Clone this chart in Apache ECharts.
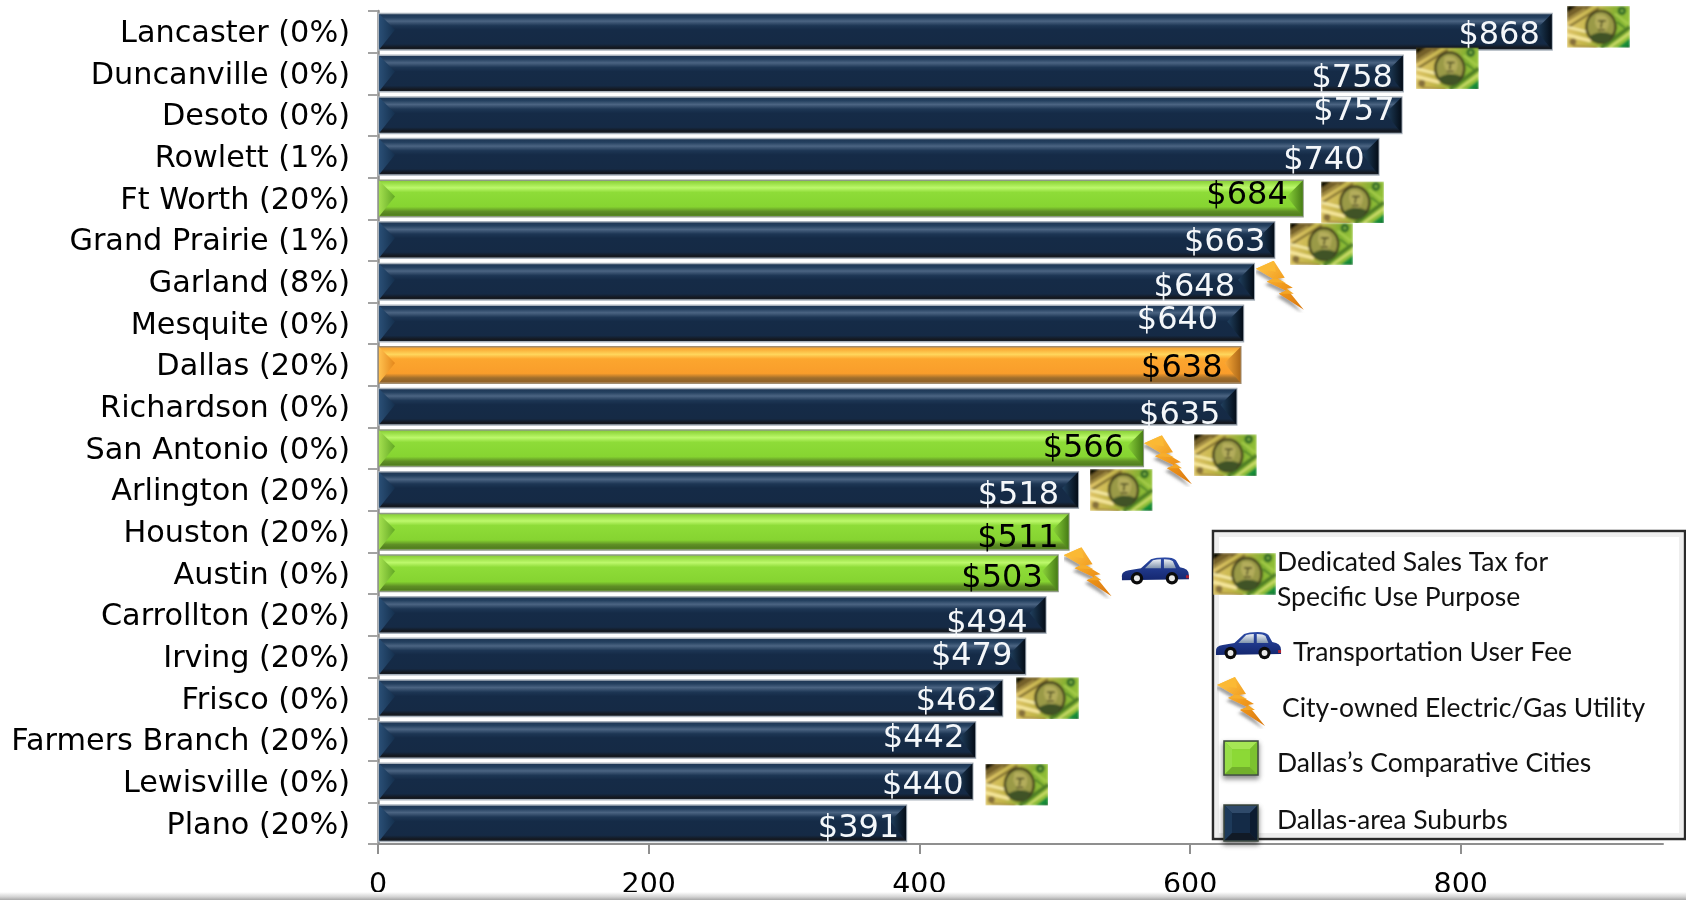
<!DOCTYPE html>
<html>
<head>
<meta charset="utf-8">
<title>Monthly cost by city</title>
<style>html,body{margin:0;padding:0;background:#fff}#chart{width:1686px;height:900px}</style>
<script src="https://cdn.jsdelivr.net/npm/echarts@6/dist/echarts.min.js"></script>
</head>
<body>
<div id="chart"></div>
<script>
// Cities, top to bottom
const cities = ['Lancaster (0%)','Duncanville (0%)','Desoto (0%)','Rowlett (1%)','Ft Worth (20%)','Grand Prairie (1%)','Garland (8%)','Mesquite (0%)','Dallas (20%)','Richardson (0%)','San Antonio (0%)','Arlington (20%)','Houston (20%)','Austin (0%)','Carrollton (20%)','Irving (20%)','Frisco (0%)','Farmers Branch (20%)','Lewisville (0%)','Plano (20%)'];
const amounts = [868,758,757,740,684,663,648,640,638,635,566,518,511,503,494,479,462,442,440,391];
const groups = ['suburb','suburb','suburb','suburb','peer','suburb','suburb','suburb','dallas','suburb','peer','suburb','peer','peer','suburb','suburb','suburb','suburb','suburb','suburb'];
const axisTicks = [0,200,400,600,800];

// Value label nudges in pixels: [inset from the bar end, vertical shift]
const labelNudge = [[13,4],[11,5],[8,-3],[15,4],[16,-3],[10,3],[20,6],[26,-3],[19,4],[17,9],[20,0],[20,6],[11,7],[16,5],[19,9],[14,0],[6,3],[12,-1],[10,4],[8,6]];

// Icon annotations: [axis value, city, vertical shift in pixels]
const salesTaxMarks = [[901.7,'Lancaster (0%)',-5],[790,'Duncanville (0%)',-5],[720,'Ft Worth (20%)',4],[697,'Grand Prairie (1%)',4],[626,'San Antonio (0%)',7],[549,'Arlington (20%)',0],[494.6,'Frisco (0%)',0],[472,'Lewisville (0%)',3]];
const utilityMarks = [[667,'Garland (8%)',5],[584.4,'San Antonio (0%)',13],[525,'Austin (0%)',0]];
const userFeeMarks = [[574.4,'Austin (0%)',-2]];

// Bevel palettes per bar group
const palette = {
  suburb: {
    stops: [[0,'#1b3250'],[0.12,'#24405f'],[0.22,'#4b6482'],[0.34,'#1d3654'],[0.45,'#152b47'],[0.82,'#152a45'],[0.92,'#14181f'],[1,'#1b2530']],
    border: '#a9b2bc', left: ['#2a4f76','#15304e'], right: ['#20405f','#040d18'], text: '#f4f7fa'
  },
  peer: {
    stops: [[0,'#7fc52e'],[0.12,'#9fe34c'],[0.22,'#bdf86c'],[0.34,'#8edc38'],[0.72,'#86d431'],[0.84,'#5f8f25'],[0.93,'#527f1f'],[1,'#6da529']],
    border: '#8f9a86', left: ['#a4e04f','#62a824'], right: ['#8dd63a','#477d16'], text: '#000'
  },
  dallas: {
    stops: [[0,'#f4982a'],[0.12,'#fbb63f'],[0.22,'#ffd65c'],[0.34,'#fca62e'],[0.72,'#f99d2b'],[0.84,'#a06e2c'],[0.93,'#8f6228'],[1,'#c6853a']],
    border: '#a08c70', left: ['#ffc04e','#e4861a'], right: ['#fbaa38','#ad6818'], text: '#000'
  }
};

const vGrad = (stops) => new echarts.graphic.LinearGradient(0,0,0,1,stops.map(s => ({offset:s[0],color:s[1]})));
const hGrad = (pair) => new echarts.graphic.LinearGradient(0,0,1,0,[{offset:0,color:pair[0]},{offset:1,color:pair[1]}]);

// Icon artwork as inline SVG
const billSvg = `<svg xmlns="http://www.w3.org/2000/svg" width="63" height="42" viewBox="0 0 63 42">
<defs>
<linearGradient id="b" x1="0" y1="0.3" x2="1" y2="0.5"><stop offset="0" stop-color="#e3c66c"/><stop offset="0.4" stop-color="#c2b548"/><stop offset="0.75" stop-color="#80b030"/><stop offset="1" stop-color="#9ac63c"/></linearGradient>
<linearGradient id="g" x1="0" y1="0" x2="1" y2="1"><stop offset="0" stop-color="#2fae45"/><stop offset="1" stop-color="#0b7d32"/></linearGradient>
<filter id="s" x="-5%" y="-5%" width="110%" height="110%"><feGaussianBlur stdDeviation="0.8"/></filter>
<clipPath id="c"><rect width="63" height="42"/></clipPath>
</defs>
<g clip-path="url(#c)"><g filter="url(#s)">
<rect width="63" height="42" fill="url(#b)"/>
<polygon points="0,16 0,0 26,0" fill="#75602a"/>
<polygon points="0,7 0,0 10,0" fill="#0d0a06"/>
<line x1="0" y1="22" x2="32" y2="2" stroke="#7d6c2e" stroke-width="2.2"/>
<line x1="0" y1="14" x2="18" y2="3" stroke="#b8a24e" stroke-width="1.4"/>
<line x1="0" y1="29" x2="24" y2="35" stroke="#f6e79c" stroke-width="3.4"/>
<line x1="0" y1="21" x2="20" y2="26" stroke="#f7eca8" stroke-width="2.4"/>
<line x1="6" y1="40" x2="30" y2="42" stroke="#a88f40" stroke-width="2"/>
<line x1="34" y1="42" x2="63" y2="21" stroke="#4f7f26" stroke-width="4"/>
<line x1="42" y1="42" x2="63" y2="27" stroke="#d2de70" stroke-width="2"/>
<polygon points="63,42 50,42 63,32" fill="url(#g)"/>
<polygon points="63,42 54,42 63,41" fill="#02250c"/>
<ellipse cx="34" cy="21" rx="14.5" ry="16" fill="#9a9a46" stroke="#3f3c1c" stroke-width="2.4"/>
<path d="M29 9 Q39 7 42 15 Q42 24 36 27 Q30 25 28 17 Z" fill="#b4ad5c"/>
<path d="M31 15 L39 15 M35 15 L34 22 M31 24 L38 24" stroke="#4a4820" stroke-width="1.5" fill="none"/>
<path d="M22 31 Q33 23 46 29 L41 37 L28 37 Z" fill="#3f5226"/>
<circle cx="55" cy="5" r="4.2" fill="#2b6628"/>
<circle cx="55" cy="5" r="1.6" fill="#86b844"/>
<circle cx="6" cy="36" r="3.4" fill="#86703a"/>
<line x1="48" y1="8" x2="61" y2="18" stroke="#a9cf4e" stroke-width="2"/>
<line x1="50" y1="16" x2="58" y2="22" stroke="#3f7a26" stroke-width="1.6"/>
</g></g></svg>`;

const carSvg = `<svg xmlns="http://www.w3.org/2000/svg" width="69" height="28" viewBox="0 0 69 28">
<defs>
<linearGradient id="k" x1="0" y1="0" x2="0" y2="1"><stop offset="0" stop-color="#2c4aa6"/><stop offset="1" stop-color="#14276f"/></linearGradient>
<linearGradient id="w" x1="0" y1="0" x2="0" y2="1"><stop offset="0" stop-color="#eef2f6"/><stop offset="1" stop-color="#7f93ad"/></linearGradient>
</defs>
<path d="M1 20 Q0 14 8 13 L20 11 L30 2 Q35 0 44 0 Q52 0 55 3 L59 10 Q68 11 68 18 L68 22 L1 23 Z" fill="url(#k)"/>
<path d="M24 11 L32 3 Q36 2 40 2 L40 11 Z" fill="url(#w)"/>
<path d="M43 2 Q50 2 52 4 L55 11 L43 11 Z" fill="url(#w)"/>
<rect x="65" y="18" width="3" height="3" fill="#b02030"/>
<circle cx="16" cy="21" r="6.2" fill="#0b0b0b"/><circle cx="16" cy="21" r="3" fill="#e8e8e8"/>
<circle cx="51" cy="21" r="6.2" fill="#0b0b0b"/><circle cx="51" cy="21" r="3" fill="#e8e8e8"/>
</svg>`;

const boltSvg = `<svg xmlns="http://www.w3.org/2000/svg" width="50" height="52" viewBox="0 0 50 52">
<defs>
<linearGradient id="o" x1="0" y1="0" x2="1" y2="1"><stop offset="0" stop-color="#ffc94a"/><stop offset="0.55" stop-color="#f0981c"/><stop offset="1" stop-color="#d8760c"/></linearGradient>
<filter id="d" x="-20%" y="-20%" width="140%" height="140%"><feDropShadow dx="-2" dy="3" stdDeviation="1.8" flood-color="#555" flood-opacity="0.55"/></filter>
</defs>
<polygon filter="url(#d)" fill="url(#o)" points="18,0 29,17 22,18 37,27 31,28 48,49 23,33 30,30 11,21 17,18 0,8"/>
<polygon fill="#fbb934" points="18,0 0,8 20,11"/>
<polygon fill="#f7ae2c" points="11,21 30,22 22,18 17,18"/>
<polygon fill="#f4a626" points="23,33 38,33 31,28 30,30"/>
</svg>`;

const svgUri = (svg) => 'data:image/svg+xml;charset=utf-8,' + encodeURIComponent(svg);
const billImg = svgUri(billSvg), carImg = svgUri(carSvg), boltImg = svgUri(boltSvg);

const markSeries = (name, marks, img, size) => ({
  type: 'scatter', name, z: 5, clip: false, silent: true,
  symbol: 'image://' + img, symbolSize: size,
  itemStyle: { opacity: 1 },
  data: marks.map(m => ({ value: [m[0], m[1]], symbolOffset: [0, m[2]] }))
});

// Square legend swatch with pyramid-style shading
function swatch(x, y, w, h, kind) {
  const d = 8, peer = kind === 'peer';
  const tri = (pts, fill) => ({ type:'polygon', z:31, shape:{points:pts}, style:{fill} });
  return { type:'group', x, y, children:[
    { type:'rect', z:30, shape:{x:0,y:0,width:w,height:h}, style:{ fill: peer?'#8cd936':'#142b47', stroke:'#3e4a40', lineWidth:1.5, shadowBlur:5, shadowOffsetY:3, shadowColor:'rgba(0,0,0,0.45)' } },
    tri([[1,1],[w-1,1],[w-d,d],[d,d]], peer?'#a6e655':'#2f4a6a'),
    tri([[1,1],[d,d],[d,h-d],[1,h-1]], peer?'#97de48':'#1d3a5a'),
    tri([[w-1,1],[w-d,d],[w-d,h-d],[w-1,h-1]], peer?'#7cc230':'#0c1c30'),
    tri([[1,h-1],[d,h-d],[w-d,h-d],[w-1,h-1]], peer?'#72b02c':'#111a26')
  ]};
}
const legendText = (x, y, text) => ({
  type:'text', x, y, z:32,
  style:{ text, fill:'#111', font:'26.5px Lato, "Open Sans", sans-serif', textVerticalAlign:'middle' }
});

const chart = echarts.init(document.getElementById('chart'), null, { renderer:'canvas' });

chart.setOption({
  animation: false,
  backgroundColor: '#fff',
  grid: { left: 378, top: 11, width: 1285, height: 834.7, containLabel: false },
  xAxis: {
    type: 'value', min: 0, max: 949.4, splitLine: { show:false },
    axisLine: { show:true, onZero:false, lineStyle:{ color:'#8f8f8f', width:2 } },
    axisTick: { show:true, length:10, customValues: axisTicks, lineStyle:{ color:'#8f8f8f', width:2 } },
    axisLabel: { customValues: axisTicks, margin: 27, color:'#000', fontSize:28.5, fontFamily:'"DejaVu Sans"' }
  },
  yAxis: {
    type: 'category', inverse: true, data: cities,
    axisLine: { show:true, lineStyle:{ color:'#8f8f8f', width:2.5 } },
    axisTick: { show:true, length:10, lineStyle:{ color:'#a3a3a3', width:2 } },
    axisLabel: { margin: 28, color:'#000', fontSize:30.3, fontFamily:'"DejaVu Sans"', verticalAlign:'top', lineHeight:5 }
  },
  series: [
    {
      type: 'bar', name: 'Monthly cost', z: 2, barWidth: 38, silent: true,
      data: amounts.map((v, i) => ({
        value: v,
        itemStyle: { color: vGrad(palette[groups[i]].stops), borderColor: palette[groups[i]].border, borderWidth: 1.5 }
      }))
    },
    {
      // End caps of each bevelled bar and the value label on top of them
      type: 'custom', name: 'Bar caps', z: 3, silent: true, clip: false,
      encode: { x: 0, y: 1 },
      data: amounts.map((v, i) => [v, i]),
      renderItem: (params, api) => {
        const i = api.value(1), v = api.value(0);
        const p = palette[groups[i]];
        const end = api.coord([v, i]), start = api.coord([0, i]);
        const top = end[1] - 19, bot = end[1] + 19, d = 16;
        const x0 = start[0] + 1, x1 = end[0] - 1;
        return { type:'group', children:[
          { type:'polygon', shape:{points:[[x0,top+1],[x0+d,top+1+d],[x0,bot-1]]}, style:{fill:hGrad(p.left)} },
          { type:'polygon', shape:{points:[[x1,top+1],[x1-d,top+1+d],[x1,bot-1]]}, style:{fill:hGrad(p.right)} },
          { type:'text', z2:10, style:{
              x: end[0] - labelNudge[i][0], y: end[1] + labelNudge[i][1],
              text: '$' + v, fill: p.text, font:'32px "DejaVu Sans"',
              textAlign:'right', textVerticalAlign:'middle' } }
        ]};
      }
    },
    markSeries('Dedicated Sales Tax', salesTaxMarks, billImg, [63,42]),
    markSeries('City-owned Utility', utilityMarks, boltImg, [50,52]),
    markSeries('Transportation User Fee', userFeeMarks, carImg, [69,28])
  ],
  graphic: [
    // Legend frame
    { type:'rect', z:20, shape:{x:1213,y:531,width:472,height:308}, style:{fill:'#fff', stroke:'#2a2a2a', lineWidth:2.5} },
    { type:'rect', z:21, shape:{x:1217,y:535,width:464,height:300}, style:{fill:'none', stroke:'#eeeeee', lineWidth:4} },
    { type:'image', z:30, style:{ image:billImg, x:1213, y:553, width:63, height:42 } },
    { type:'image', z:30, style:{ image:carImg, x:1215, y:632, width:67, height:28 } },
    { type:'image', z:30, style:{ image:boltImg, x:1217, y:677, width:50, height:52 } },
    swatch(1224, 741, 34, 34, 'peer'),
    swatch(1224, 805, 34, 36, 'suburb'),
    legendText(1277, 562, 'Dedicated Sales Tax for'),
    legendText(1277, 597, 'Specific Use Purpose'),
    legendText(1293, 652, 'Transportation User Fee'),
    legendText(1282, 708, 'City-owned Electric/Gas Utility'),
    legendText(1277, 763, 'Dallas\u2019s Comparative Cities'),
    legendText(1277, 820, 'Dallas-area Suburbs'),
    // Soft shaded strip along the foot of the slide
    { type:'rect', z:40, shape:{x:0,y:892,width:1686,height:8},
      style:{ fill:new echarts.graphic.LinearGradient(0,0,0,1,[{offset:0,color:'#ffffff'},{offset:0.6,color:'#d4d4d4'},{offset:1,color:'#a8a8a8'}]) } }
  ]
});
</script>
</body>
</html>
